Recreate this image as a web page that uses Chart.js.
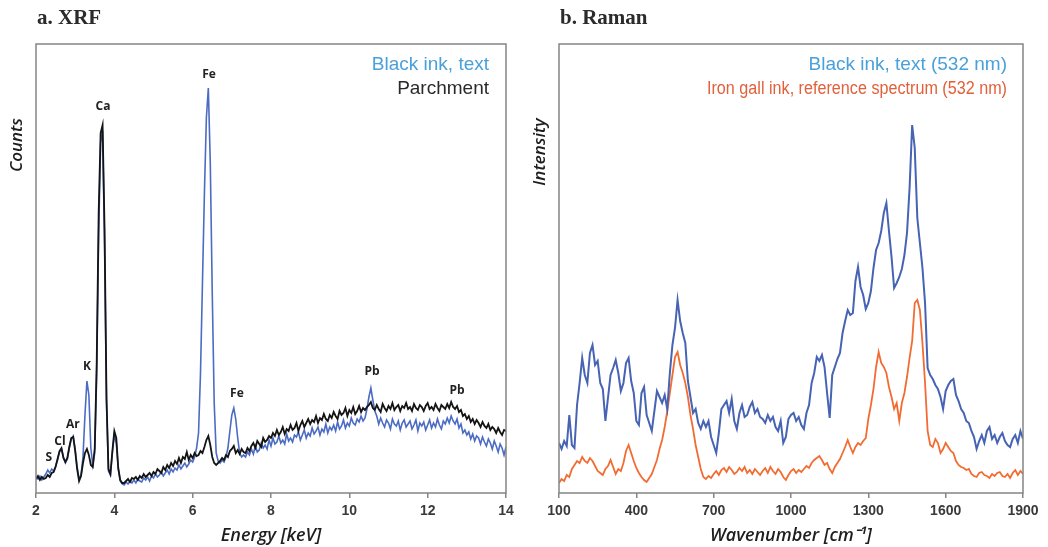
<!DOCTYPE html>
<html>
<head>
<meta charset="utf-8">
<script src="https://cdn.jsdelivr.net/npm/chart.js@4.4.1/dist/chart.umd.min.js"></script>
<style>
  html, body { margin: 0; padding: 0; background: #fff; }
  #wrap { position: relative; width: 1048px; height: 547px; }
  canvas { position: absolute; top: 0; }
  #xrfChart { left: 0; }
  #ramanChart { left: 520px; }
</style>
</head>
<body>
<div id="wrap">
  <canvas id="xrfChart" width="520" height="547"></canvas>
  <canvas id="ramanChart" width="528" height="547"></canvas>
</div>
<script>
// XRF spectra, one value per 0.05 keV channel from 2.00 to 14.00 keV (arbitrary counts)
const xrfInk = [
  16, 14, 17, 13, 16, 19, 23, 20, 24, 22,        // 2.00
  27, 33, 41, 44, 36, 30, 34, 45, 54, 57,        // 2.50
  44, 26, 14, 18, 36, 78, 112, 98, 45, 28,       // 3.00
  40, 120, 260, 350, 362, 250, 90, 22, 18, 40,   // 3.50
  58, 50, 24, 12, 9, 8, 11, 9, 12, 10,           // 4.00
  13, 10, 14, 12, 11, 15, 13, 16, 12, 17,        // 4.50
  15, 19, 16, 18, 21, 17, 20, 23, 19, 24,        // 5.00
  21, 25, 23, 28, 24, 27, 30, 26, 29, 33,        // 5.50
  31, 36, 45, 60, 120, 210, 300, 375, 405, 330,  // 6.00
  200, 90, 40, 32, 30, 33, 31, 36, 45, 62,       // 6.50
  78, 85, 74, 55, 40, 36, 38, 36, 41, 38,        // 7.00
  44, 39, 47, 41, 43, 50, 45, 48, 44, 53,        // 7.50
  47, 55, 49, 51, 57, 50, 53, 49, 59, 52,        // 8.00
  55, 51, 58, 56, 61, 53, 58, 63, 55, 60,        // 8.50
  57, 65, 59, 62, 66, 58, 64, 61, 69, 60,        // 9.00
  66, 63, 68, 62, 71, 64, 67, 73, 65, 70,        // 9.50
  67, 75, 70, 68, 74, 71, 77, 72, 75, 84,        // 10.00
  96, 105, 93, 82, 77, 69, 75, 70, 66, 73,       // 10.50
  70, 64, 74, 69, 67, 72, 63, 70, 73, 66,        // 11.00
  69, 72, 64, 68, 73, 62, 70, 67, 71, 63,        // 11.50
  68, 73, 65, 70, 66, 74, 68, 64, 72, 69,        // 12.00
  75, 70, 77, 72, 69, 74, 65, 69, 60, 63,        // 12.50
  58, 61, 54, 59, 52, 57, 55, 49, 56, 51,        // 13.00
  47, 54, 50, 44, 52, 47, 41, 49, 45, 38,        // 13.50
  46                                             // 14.00
];
const xrfParchment = [
  14, 17, 13, 16, 14, 15, 18, 16, 20, 21,        // 2.00
  26, 34, 42, 45, 35, 31, 35, 46, 55, 56,        // 2.50
  42, 24, 12, 17, 30, 40, 44, 38, 28, 26,        // 3.00
  45, 130, 280, 360, 368, 265, 95, 24, 19, 42,   // 3.50
  62, 55, 25, 13, 10, 10, 12, 14, 11, 15,        // 4.00
  14, 16, 13, 17, 15, 19, 16, 18, 20, 17,        // 4.50
  21, 19, 24, 22, 20, 26, 23, 28, 25, 30,        // 5.00
  27, 32, 29, 35, 30, 36, 34, 41, 33, 38,        // 5.50
  35, 40, 37, 38, 42, 40, 46, 53, 57, 48,        // 6.00
  36, 30, 28, 30, 32, 35, 33, 38, 36, 42,        // 6.50
  44, 47, 40, 43, 39, 44, 41, 40, 45, 42,        // 7.00
  47, 50, 45, 52, 49, 46, 55, 51, 53, 57,        // 7.50
  55, 60, 57, 63, 58, 61, 66, 59, 64, 62,        // 8.00
  68, 63, 65, 70, 62, 68, 72, 66, 70, 74,        // 8.50
  69, 73, 71, 77, 70, 75, 73, 79, 74, 72,        // 9.00
  78, 75, 81, 77, 74, 82, 78, 80, 85, 77,        // 9.50
  83, 80, 86, 79, 82, 87, 81, 85, 83, 86,        // 10.00
  88, 91, 85, 83, 88, 84, 81, 89, 85, 82,        // 10.50
  87, 84, 90, 83, 86, 88, 82, 87, 85, 90,        // 11.00
  84, 86, 82, 89, 85, 83, 88, 86, 82, 87,        // 11.50
  90, 84, 86, 83, 89, 85, 82, 88, 86, 84,        // 12.00
  89, 85, 91, 86, 84, 87, 81, 83, 77, 79,        // 12.50
  74, 77, 71, 74, 69, 73, 70, 66, 71, 67,        // 13.00
  65, 69, 63, 66, 64, 60, 65, 61, 58, 63,        // 13.50
  62                                             // 14.00
];
const xrfEnergy = xrfInk.map((_, i) => 2 + i * 0.05);
const xrfTicks = [2, 4, 6, 8, 10, 12, 14];

// peak labels: element, energy (keV), height in counts
const xrfPeaks = [
  ['S', 2.33, 35], ['Cl', 2.61, 51], ['Ar', 2.94, 68], ['K', 3.30, 126],
  ['Ca', 3.71, 386], ['Fe', 6.42, 418], ['Fe', 7.13, 99],
  ['Pb', 10.58, 121], ['Pb', 12.75, 102]
];

// Raman spectra, one value per 10 cm-1 from 100 to 1900 (arbitrary intensity)
const ramanInk = [
  50, 44, 52, 47, 78, 48, 45, 88, 110, 135,          // 100
  118, 110, 140, 148, 128, 132, 110, 104, 72, 95,    // 200
  118, 125, 133, 120, 102, 110, 130, 135, 112, 100,  // 300
  72, 68, 100, 106, 78, 70, 62, 82, 102, 96,         // 400
  90, 98, 84, 120, 148, 165, 193, 172, 160, 150,     // 500
  112, 96, 80, 84, 70, 64, 72, 66, 72, 56,           // 600
  48, 40, 60, 84, 88, 92, 80, 94, 72, 64,            // 700
  80, 88, 76, 78, 86, 91, 80, 84, 76, 74,            // 800
  70, 78, 72, 76, 66, 62, 72, 50, 56, 74,            // 900
  78, 80, 72, 76, 68, 64, 80, 88, 110, 120,          // 1000
  136, 132, 138, 126, 100, 75, 118, 126, 134, 140,   // 1100
  160, 172, 183, 178, 180, 212, 226, 206, 198, 184,  // 1200
  190, 202, 225, 243, 250, 262, 280, 290, 262, 236,  // 1300
  205, 210, 216, 224, 238, 260, 305, 368, 345, 275,  // 1400
  250, 225, 190, 125, 118, 114, 108, 104, 96, 84,    // 1500
  102, 108, 112, 114, 98, 92, 84, 80, 72, 70,        // 1600
  62, 56, 44, 52, 58, 50, 62, 66, 54, 58,            // 1700
  50, 56, 60, 52, 48, 46, 54, 58, 50, 62,            // 1800
  54                                                 // 1900
];
const ramanReference = [
  10, 14, 12, 18, 16, 24, 28, 32, 30, 36,            // 100
  32, 30, 35, 32, 27, 22, 20, 18, 24, 27,            // 200
  33, 26, 19, 24, 22, 30, 42, 48, 40, 32,            // 300
  25, 20, 16, 13, 11, 15, 19, 26, 33, 44,            // 400
  53, 66, 82, 100, 118, 136, 141, 128, 120, 110,     // 500
  96, 78, 64, 48, 36, 24, 16, 14, 17, 15,            // 600
  19, 22, 18, 23, 25, 21, 26, 23, 19, 21,            // 700
  25, 22, 26, 20, 23, 19, 24, 21, 18, 22,            // 800
  25, 20, 26, 22, 19, 24, 21, 16, 13, 18,            // 900
  22, 24, 20, 23, 21, 24, 27, 25, 30, 33,            // 1000
  35, 37, 33, 28, 30, 24, 20, 26, 30, 34,            // 1100
  40, 46, 53, 46, 40, 46, 50, 48, 52, 55,            // 1200
  74, 88, 104, 126, 141, 130, 126, 120, 106, 96,     // 1300
  84, 90, 72, 90, 100, 116, 135, 152, 190, 193,      // 1400
  183, 150, 110, 62, 48, 46, 54, 50, 40, 44,         // 1500
  50, 46, 42, 40, 32, 28, 26, 25, 23, 24,            // 1600
  19, 17, 16, 20, 21, 18, 17, 15, 19, 17,            // 1700
  20, 21, 17, 16, 19, 15, 20, 23, 18, 22,            // 1800
  19                                                 // 1900
];
const ramanShift = ramanInk.map((_, i) => 100 + i * 10);
const ramanTicks = [100, 400, 700, 1000, 1300, 1600, 1900];

function points(xs, ys) {
  return ys.map((y, i) => ({ x: xs[i], y: y }));
}

// frame, panel title, y title, legend text and peak labels
const decor = {
  id: 'decor',
  afterDatasetsDraw(chart, args, opts) {
    const { ctx, chartArea: a } = chart;
    ctx.save();
    ctx.strokeStyle = '#858585';
    ctx.lineWidth = 1.5;
    ctx.strokeRect(a.left, a.top, a.right - a.left, a.bottom - a.top);

    ctx.fillStyle = '#2b2b2b';
    ctx.font = 'bold 21px "Liberation Serif", serif';
    ctx.textBaseline = 'middle';
    ctx.textAlign = 'left';
    ctx.fillText(opts.title, a.left + 1, 19);

    ctx.save();
    ctx.translate(opts.yTitleX, opts.yTitleY);
    ctx.rotate(-Math.PI / 2);
    ctx.textAlign = 'center';
    ctx.font = 'italic 600 17px "Open Sans", sans-serif';
    ctx.fillStyle = '#1e1e1e';
    ctx.fillText(opts.yTitle, 0, 0);
    ctx.restore();

    ctx.textAlign = 'right';
    opts.legend.forEach((item, i) => {
      ctx.font = item.size + 'px "Liberation Sans", Arial, sans-serif';
      ctx.fillStyle = item.color;
      ctx.fillText(item.text, a.right - opts.legendInset, 65 + i * 24, item.maxWidth);
    });

    if (opts.peaks) {
      ctx.textAlign = 'center';
      ctx.font = 'bold 12px "Open Sans", sans-serif';
      ctx.fillStyle = '#222';
      const xs = chart.scales.x, ys = chart.scales.y;
      opts.peaks.forEach(p => {
        ctx.fillText(p[0], xs.getPixelForValue(p[1]), ys.getPixelForValue(p[2]));
      });
    }
    ctx.restore();
  }
};

function axisX(min, max, title, ticks) {
  return {
    type: 'linear', min: min, max: max,
    afterBuildTicks: s => { s.ticks = ticks.map(v => ({ value: v })); },
    ticks: { color: '#3a3a3a', padding: 5, callback: v => String(v),
             font: { family: '"Liberation Sans", Arial, sans-serif', size: 14, weight: 'bold' } },
    grid: { drawOnChartArea: false, drawTicks: true, tickLength: 5, color: '#858585', lineWidth: 1.5 },
    border: { display: false },
    title: { display: true, text: title, color: '#1e1e1e', padding: { top: 0, bottom: 0 },
             font: { family: '"Open Sans", sans-serif', size: 18, style: 'italic', weight: '600' } },
    afterFit: s => { s.height = 54; }
  };
}

function axisY(width) {
  return {
    min: 0, max: 449,
    ticks: { display: false },
    grid: { display: false },
    border: { display: false },
    afterFit: s => { s.width = width; }
  };
}

new Chart(document.getElementById('xrfChart'), {
  type: 'line',
  data: {
    datasets: [
      { label: 'Parchment', data: points(xrfEnergy, xrfParchment),
        borderColor: '#141414', borderWidth: 1.8, pointRadius: 0, order: 0 },
      { label: 'Black ink, text', data: points(xrfEnergy, xrfInk),
        borderColor: '#4c6cc4', borderWidth: 1.6, pointRadius: 0, order: 1 }
    ]
  },
  options: {
    responsive: false,
    animation: false,
    layout: { padding: { top: 44, right: 14, left: 0, bottom: 0 } },
    scales: { x: axisX(2, 14, 'Energy [keV]', xrfTicks), y: axisY(36) },
    plugins: {
      legend: { display: false },
      tooltip: { enabled: false },
      decor: {
        title: 'a. XRF', yTitle: 'Counts', yTitleX: 17, yTitleY: 145, legendInset: 17,
        legend: [{ text: 'Black ink, text', color: '#4aa0da', size: 19 },
                 { text: 'Parchment', color: '#2a2a2a', size: 19 }],
        peaks: xrfPeaks
      }
    }
  },
  plugins: [decor]
});

new Chart(document.getElementById('ramanChart'), {
  type: 'line',
  data: {
    datasets: [
      { label: 'Black ink, text (532 nm)', data: points(ramanShift, ramanInk),
        borderColor: '#4663b4', borderWidth: 2, pointRadius: 0, order: 0 },
      { label: 'Iron gall ink, reference spectrum (532 nm)', data: points(ramanShift, ramanReference),
        borderColor: '#f26c32', borderWidth: 1.8, pointRadius: 0, order: 1 }
    ]
  },
  options: {
    responsive: false,
    animation: false,
    layout: { padding: { top: 44, right: 25, left: 0, bottom: 0 } },
    scales: { x: axisX(100, 1900, 'Wavenumber [cm\u207B\u00B9]', ramanTicks), y: axisY(39) },
    plugins: {
      legend: { display: false },
      tooltip: { enabled: false },
      decor: {
        title: 'b. Raman', yTitle: 'Intensity', yTitleX: 20, yTitleY: 152, legendInset: 16,
        legend: [{ text: 'Black ink, text (532 nm)', color: '#4aa0da', size: 19 },
                 { text: 'Iron gall ink, reference spectrum (532 nm)', color: '#e2603a', size: 18, maxWidth: 300 }]
      }
    }
  },
  plugins: [decor]
});
</script>
</body>
</html>
